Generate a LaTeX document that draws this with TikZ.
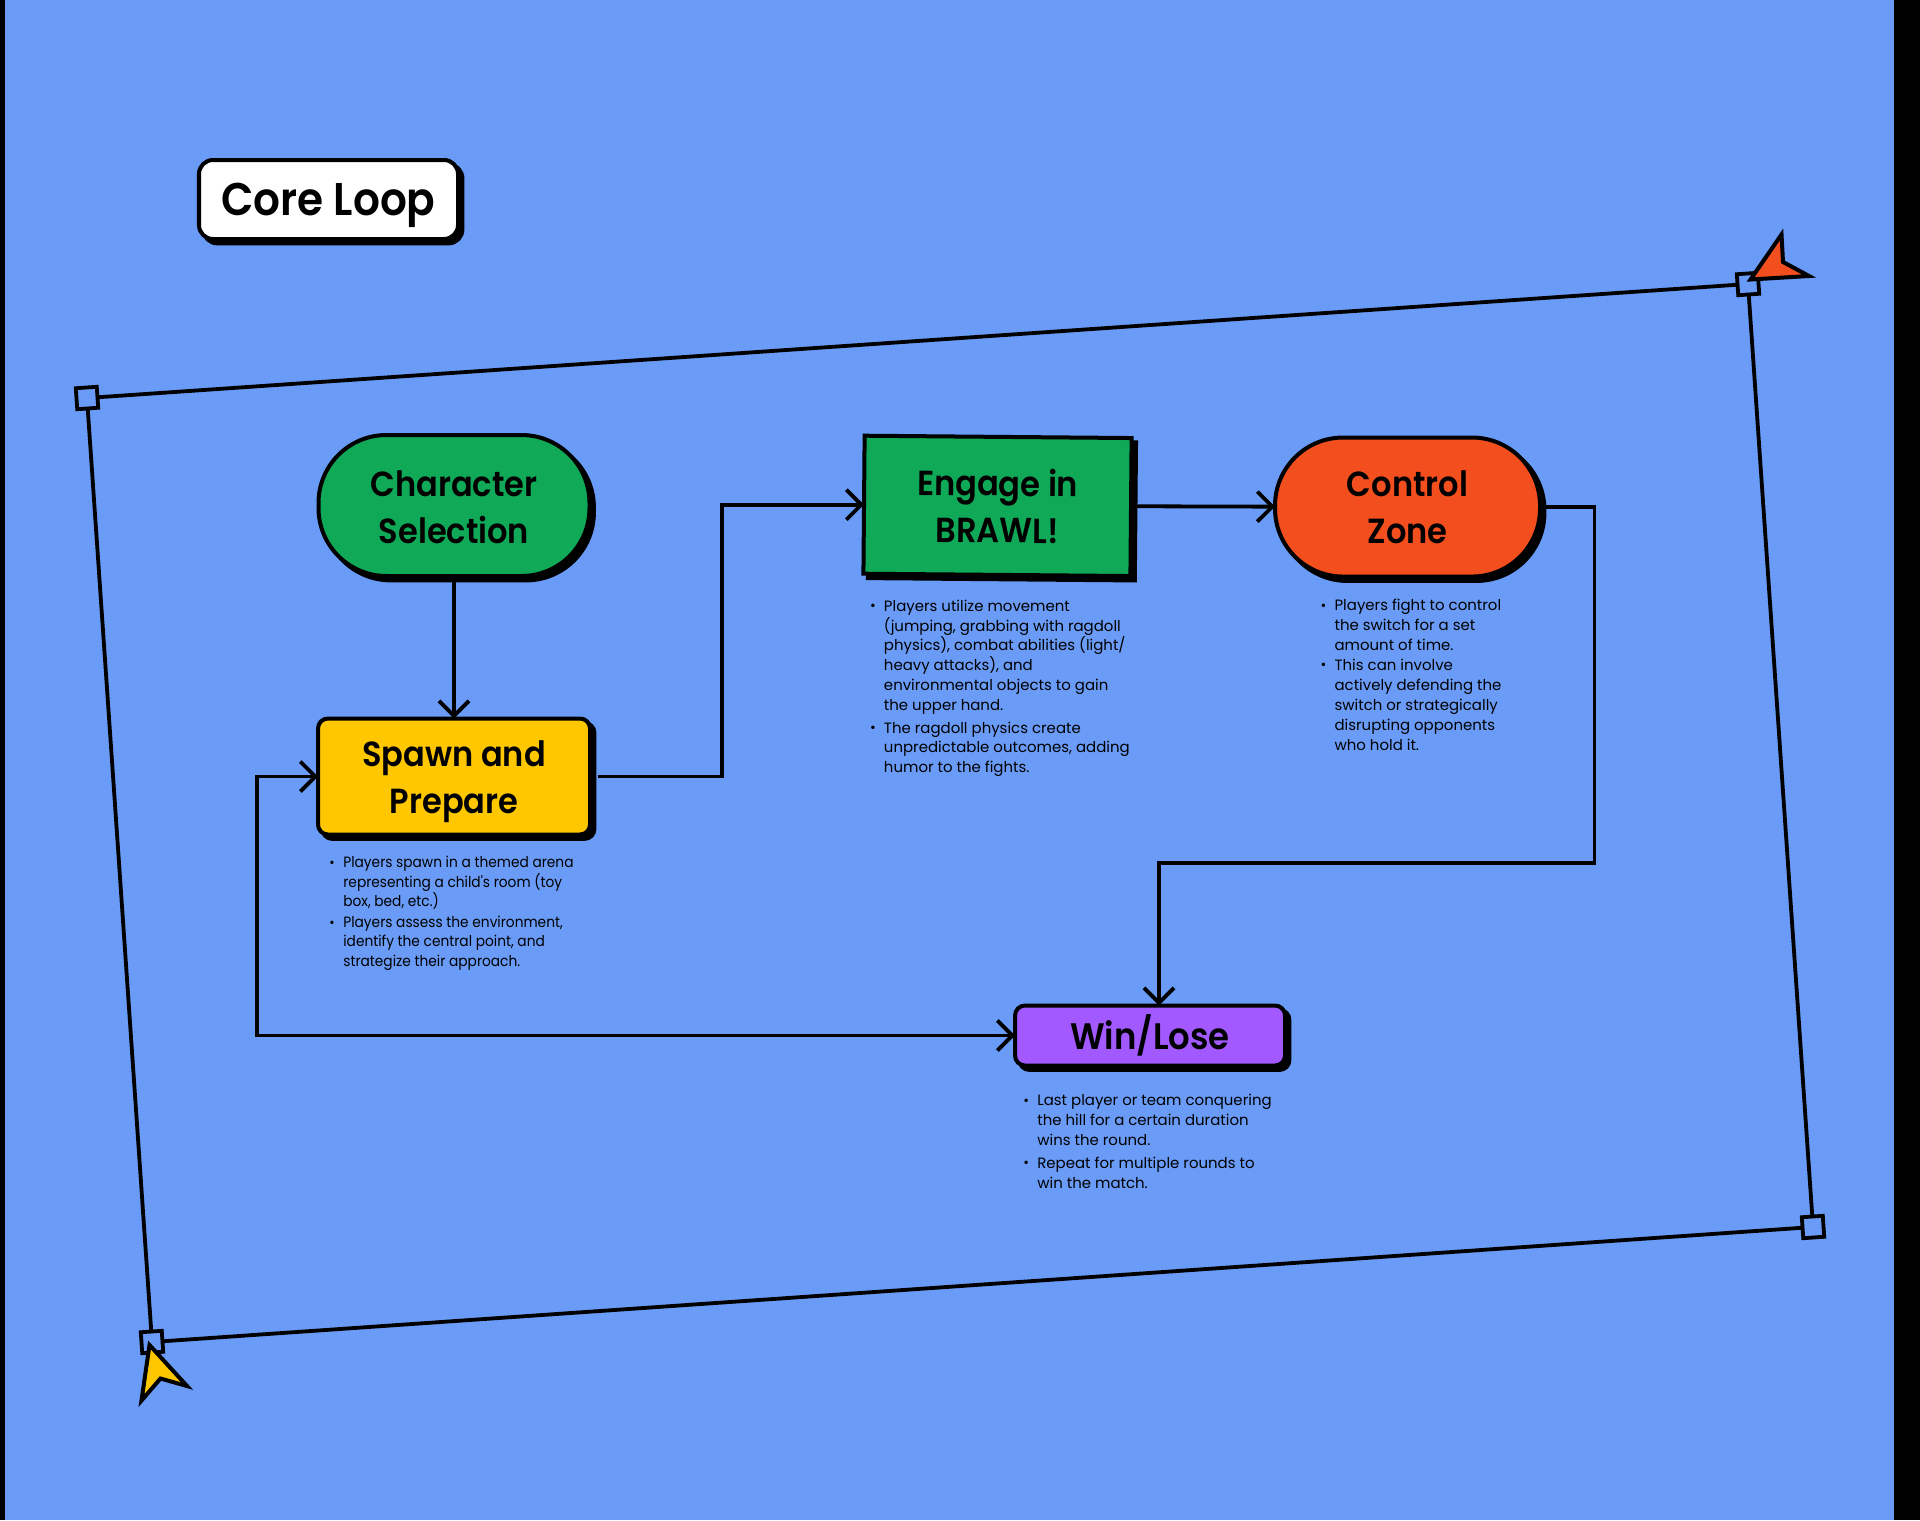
\documentclass[tikz,border=0pt]{standalone}
\usepackage{fontspec}
\usepackage{xcolor}
\usepackage{tikz}
\usetikzlibrary{arrows.meta, positioning, shadows}
\newfontfamily\headfont[FakeStretch=0.92]{Poppins SemiBold}
\newfontfamily\notefont{Poppins}
\newfontfamily\spawnfont[FakeStretch=0.92]{Poppins}
\definecolor{mybg}{HTML}{699BF7}
\definecolor{mygreen}{HTML}{0FA958}
\definecolor{myorange}{HTML}{F24E1E}
\definecolor{myyellow}{HTML}{FFC700}
\definecolor{mypurple}{HTML}{A259FF}
\newcommand{\nbul}{\makebox[6.2pt][l]{\hspace*{-0.8pt}\raisebox{0.2pt}{\fontsize{7}{7}\selectfont\textbullet}}}
\newcommand{\nind}{\hspace*{6.2pt}}
\tikzset{
  flowbox/.style={rectangle,draw=black,line width=2bp,outer sep=0pt,inner sep=0pt,align=center,
    font=\headfont\fontsize{17.5}{23.5}\selectfont,
    copy shadow={shadow xshift=2.2bp,shadow yshift=-2.2bp,fill=black,draw=black}},
  stadium/.style={flowbox,rounded corners=34bp,minimum width=135.5bp,minimum height=70.5bp},
  roundbox/.style={flowbox,rounded corners=5bp},
  note/.style={inner sep=0pt,outer sep=0pt,align=left,font=\notefont\fontsize{7.5}{10}\selectfont},
  handle/.style={rectangle,draw=black,fill=mybg,line width=1.9bp,minimum size=10.5bp,inner sep=0pt,outer sep=0pt,rotate=3.93},
  frameline/.style={line width=1.9bp,color=black},
  arrow/.style={->,line width=1.9bp,color=black},
  cursor/.style={draw=black,line width=2bp,miter limit=10}
}
\begin{document}
\begin{tikzpicture}[x=0.5bp,y=-0.5bp,>={Straight Barb[length=7.5bp,width=15bp]}]
  \useasboundingbox (0,0) rectangle (1920,1520);
  \fill[mybg] (0,0) rectangle (1920,1520);
  \fill[black] (0,0) rectangle (5,1520);
  \fill[black] (1894,0) rectangle (1920,1520);

  \node[roundbox, rounded corners=7bp, fill=white, minimum width=129.5bp, minimum height=39.5bp,
    text depth=0pt, font=\headfont\fontsize{23}{26}\selectfont] (title) at (328.5,199.5) {Core Loop};

  \node[handle] (hdltl) at (87,398) {};
  \node[handle] (hdltr) at (1748,284) {};
  \node[handle] (hdlbr) at (1813,1227) {};
  \node[handle] (hdlbl) at (152,1342) {};
  \draw[frameline] (hdltl) -- (hdltr);
  \draw[frameline] (hdltr) -- (hdlbr);
  \draw[frameline] (hdlbr) -- (hdlbl);
  \draw[frameline] (hdlbl) -- (hdltl);

  \draw[cursor, fill=myorange] (1750.5,279.5) -- (1781.5,234.5) -- (1783,262) -- (1809,276) -- cycle;
  \draw[cursor, fill=myyellow] (149.5,1345) -- (187,1386) -- (160.5,1378.5) -- (141.5,1400.5) -- cycle;

  \node[stadium, fill=mygreen] (chars) at (454,505.5) {\rule{0pt}{14.6pt}Character\\Selection};
  \node[roundbox, fill=myyellow, minimum width=136bp, minimum height=58bp, below=71.25bp of chars] (spawn) {\rule{0pt}{17.8pt}Spawn and\\Prepare};
  \node[flowbox, fill=mygreen, rotate=-0.5, minimum width=133.5bp, minimum height=69bp, right=137.25bp of chars, yshift=0.4bp] (brawl) {Engage in\\BRAWL!};
  \node[stadium, fill=myorange, minimum width=132.5bp, minimum height=69.5bp, right=72bp of brawl] (zone) {Control\\Zone};
  \node[roundbox, fill=mypurple, minimum width=135bp, minimum height=30bp, font=\headfont\fontsize{18.5}{23.5}\selectfont, below right=85.5bp and 212.5bp of spawn.south east] (result) {\rule{0pt}{15.5pt}Win/Lose};

  \node[note, font=\spawnfont\fontsize{7.5}{9.7}\selectfont, below right=11bp and 6.5bp of spawn.south west] (spawnnote) {%
    \nbul Players spawn in a themed arena\\
    \nind representing a child's room (toy\\
    \nind box, bed, etc.)\\[0.8pt]
    \nbul Players assess the environment,\\
    \nind identify the central point, and\\
    \nind strategize their approach.};
  \node[note, below right=13bp and 4.1bp of brawl.south west] (brawlnote) {%
    \nbul Players utilize movement\\
    \nind (jumping, grabbing with ragdoll\\
    \nind physics), combat abilities (light/\\
    \nind heavy attacks), and\\
    \nind environmental objects to gain\\
    \nind the upper hand.\\[1.2pt]
    \nbul The ragdoll physics create\\
    \nind unpredictable outcomes, adding\\
    \nind humor to the fights.};
  \node[note, below right=11.3bp and 23.6bp of zone.south west] (zonenote) {%
    \nbul Players fight to control\\
    \nind the switch for a set\\
    \nind amount of time.\\
    \nbul This can involve\\
    \nind actively defending the\\
    \nind switch or strategically\\
    \nind disrupting opponents\\
    \nind who hold it.};
  \node[note, below right=14.5bp and 5bp of result.south west] (resultnote) {%
    \nbul Last player or team conquering\\
    \nind the hill for a certain duration\\
    \nind wins the round.\\[1.2pt]
    \nbul Repeat for multiple rounds to\\
    \nind win the match.};

  \coordinate (zonedrop) at (1159,863);
  \draw[arrow] (chars) -- (spawn);
  \draw[arrow, shorten <=4bp] (spawn.east) -- ++(132,0) |- (brawl.west);
  \draw[arrow] (brawl) -- (zone);
  \draw[arrow] (zone.east) -- ++(54.5,0) |- (zonedrop) -- (zonedrop |- result.north);
  \draw[arrow, <->] (result.west) -- ++(-758,0) |- (spawn.west);
\end{tikzpicture}
\end{document}
